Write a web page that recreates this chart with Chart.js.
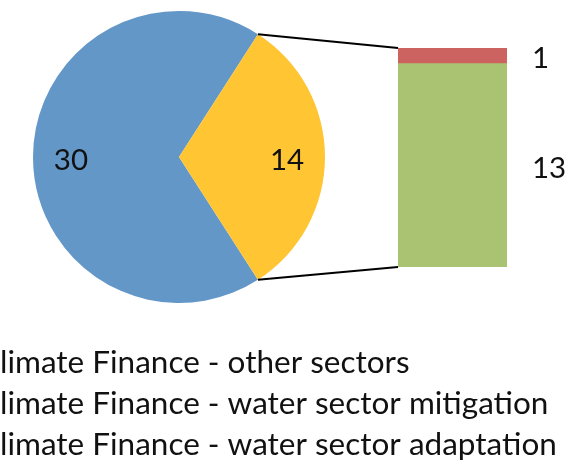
<!DOCTYPE html>
<html>
<head>
<meta charset="utf-8">
<script src="https://cdn.jsdelivr.net/npm/chart.js@4"></script>
<style>
  html, body { margin: 0; padding: 0; background: #fff; }
  #wrap { position: relative; width: 588px; height: 464px; overflow: hidden; }
  #pieCanvas { position: absolute; left: 0; top: 0; }
  #barCanvas { position: absolute; left: 398px; top: 48px; }
</style>
</head>
<body>
<div id="wrap">
  <canvas id="pieCanvas" width="588" height="464"></canvas>
  <canvas id="barCanvas" width="109" height="219"></canvas>
</div>
<script>
// main pie
const pieLabels = ["Climate Finance - other sectors", "Climate Finance - water sector"];
const pieValues = [30, 14];
const pieColors = ["#6397C8", "#FFC533"];

// secondary stacked bar (split of the water sector slice)
const barLabels = ["Climate Finance - water sector adaptation", "Climate Finance - water sector mitigation"];
const barValues = [13, 1];
const barColors = ["#A9C373", "#CC6360"];

const legendLabels = [
  "Climate Finance - other sectors",
  "Climate Finance - water sector mitigation",
  "Climate Finance - water sector adaptation"
];

const textColor = "#111";
const labelFont = "29.5px Lato";
const legendFont = "31.5px Lato";

const barTotal = barValues.reduce((a, b) => a + b, 0);

var barChart = new Chart(document.getElementById("barCanvas"), {
  type: "bar",
  data: {
    labels: [""],
    datasets: barValues.map((v, i) => ({
      label: barLabels[i],
      data: [v],
      backgroundColor: barColors[i],
      borderWidth: 0,
      barPercentage: 1,
      categoryPercentage: 1
    }))
  },
  options: {
    responsive: false,
    animation: false,
    layout: { padding: 0 },
    plugins: { legend: { display: false }, tooltip: { enabled: false } },
    scales: {
      x: { stacked: true, display: false },
      y: { stacked: true, display: false, min: 0, max: barTotal }
    }
  }
});

const barOffset = { x: 398, y: 48 };

const extras = {
  id: "extras",
  afterDraw(chart) {
    const ctx = chart.ctx;
    ctx.save();
    ctx.fillStyle = textColor;

    // pie value labels
    const arcs = chart.getDatasetMeta(0).data;
    ctx.font = labelFont;
    ctx.textAlign = "center";
    ctx.textBaseline = "middle";
    arcs.forEach((arc, i) => {
      const p = arc.getProps(["x", "y", "startAngle", "endAngle", "outerRadius"]);
      const mid = (p.startAngle + p.endAngle) / 2;
      const r = p.outerRadius * 0.74;
      ctx.fillText(String(pieValues[i]), p.x + Math.cos(mid) * r, p.y + Math.sin(mid) * r + 3);
    });

    // connector lines from the water slice to the bar
    const w = arcs[1].getProps(["x", "y", "startAngle", "endAngle", "outerRadius"]);
    const topBar = barChart.getDatasetMeta(1).data[0].getProps(["x", "y", "base", "width"]);
    const botBar = barChart.getDatasetMeta(0).data[0].getProps(["x", "y", "base", "width"]);
    const bx = barOffset.x + topBar.x - topBar.width / 2;
    ctx.strokeStyle = "#000";
    ctx.lineWidth = 2;
    ctx.beginPath();
    ctx.moveTo(w.x + Math.cos(w.startAngle) * w.outerRadius, w.y + Math.sin(w.startAngle) * w.outerRadius);
    ctx.lineTo(bx, barOffset.y + topBar.y);
    ctx.moveTo(w.x + Math.cos(w.endAngle) * w.outerRadius, w.y + Math.sin(w.endAngle) * w.outerRadius);
    ctx.lineTo(bx, barOffset.y + botBar.base);
    ctx.stroke();

    // bar value labels, right of the bar
    ctx.textAlign = "left";
    const lx = barOffset.x + topBar.x + topBar.width / 2 + 25;
    barValues.forEach((v, i) => {
      const b = barChart.getDatasetMeta(i).data[0].getProps(["y", "base"]);
      ctx.fillText(String(v), lx, barOffset.y + (b.y + b.base) / 2 + 3);
    });

    // legend (left part is clipped like the original)
    ctx.font = legendFont;
    ctx.textBaseline = "alphabetic";
    const x0 = 0 - ctx.measureText("C").width;
    legendLabels.forEach((t, i) => {
      ctx.fillText(t, x0, 373 + i * 41);
    });
    ctx.restore();
  }
};

var pieChart = new Chart(document.getElementById("pieCanvas"), {
  type: "pie",
  data: {
    labels: pieLabels,
    datasets: [{ data: pieValues, backgroundColor: pieColors, borderWidth: 0 }]
  },
  options: {
    responsive: false,
    animation: false,
    rotation: 90 + (pieValues[1] / (pieValues[0] + pieValues[1])) * 180,
    layout: { padding: { left: 33, top: 11, right: 263, bottom: 161 } },
    plugins: { legend: { display: false }, tooltip: { enabled: false } }
  },
  plugins: [extras]
});
</script>
</body>
</html>
